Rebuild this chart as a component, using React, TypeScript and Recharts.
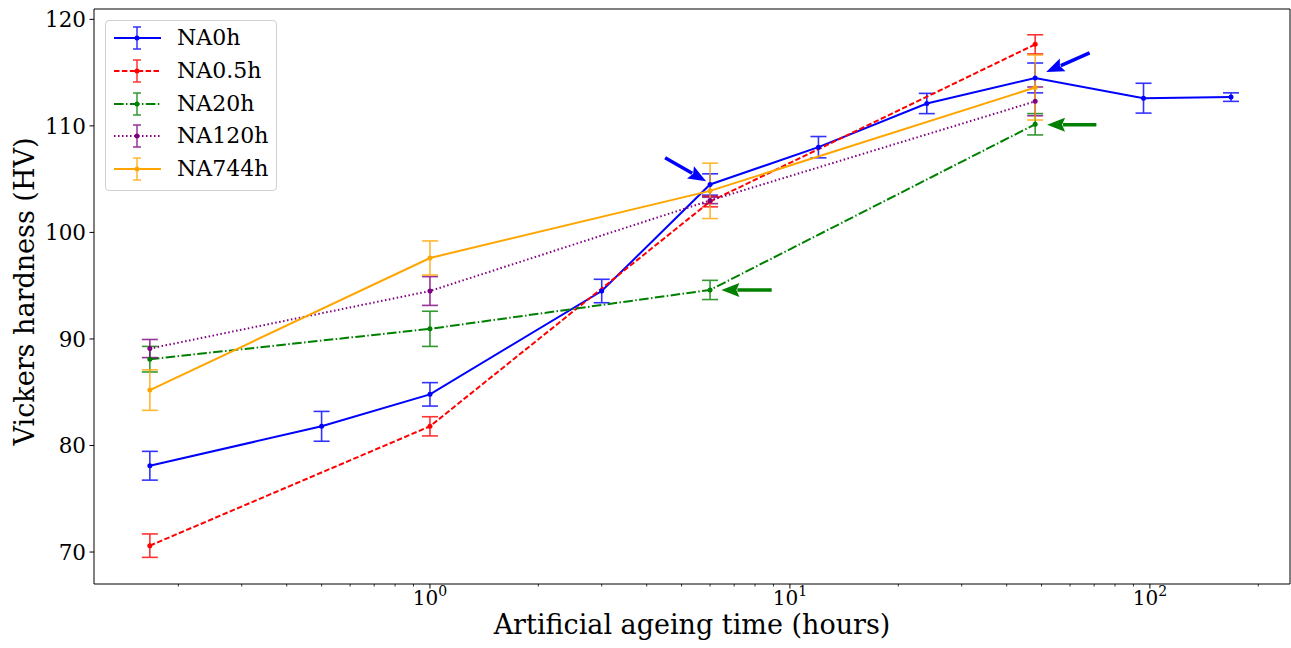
import React from 'react';
import { LineChart, Line, XAxis, YAxis, ErrorBar, Legend, ReferenceLine, Label } from 'recharts';

const SERIF = '"DejaVu Serif", "Liberation Serif", serif';

// ageing times (hours)
const hoursLong = [1 / 6, 0.5, 1, 3, 6, 12, 24, 48, 96, 168];
const hoursShort = [1 / 6, 1, 6, 48];

// Vickers hardness (HV) and error
const na0h = [78.1, 81.8, 84.8, 94.5, 104.5, 108.0, 112.1, 114.5, 112.6, 112.7];
const na0hErr = [1.35, 1.4, 1.1, 1.1, 1.0, 1.0, 0.95, 1.4, 1.4, 0.4];
const na05h = [70.6, 81.8, 102.9, 117.65];
const na05hErr = [1.1, 0.9, 0.5, 0.9];
const na20h = [88.1, 90.95, 94.6, 110.15];
const na20hErr = [1.2, 1.65, 0.9, 1.0];
const na120h = [89.1, 94.5, 103.0, 112.3];
const na120hErr = [0.85, 1.35, 0.3, 1.35];
const na744h = [85.2, 97.6, 103.9, 113.6];
const na744hErr = [1.9, 1.6, 2.6, 3.05];

// axes
const xDomain = [0.1166, 245];
const yDomain = [67, 120.97];
const majorX = [1, 10, 100];
const minorX = [0.2, 0.3, 0.4, 0.5, 0.6, 0.7, 0.8, 0.9, 2, 3, 4, 5, 6, 7, 8, 9, 20, 30, 40, 50, 60, 70, 80, 90, 200];
const yTicks = [70, 80, 90, 100, 110, 120];

// arrow annotations (data coords): tail -> tip
const arrowFrom = [[4.5, 107.0], [68, 116.85], [8.9, 94.6], [71, 110.1]];
const arrowTo = [[5.85, 104.8], [51.5, 115.05], [6.45, 94.6], [51.8, 110.1]];
const arrowColors = ['#0000ff', '#0000ff', '#008000', '#008000'];

const zip = (xs: number[], ys: number[], es: number[]) =>
  xs.map((x, i) => ({ x, y: ys[i], err: es[i] }));

const series = [
  { name: 'NA0h', color: '#0000ff', dash: undefined, data: zip(hoursLong, na0h, na0hErr) },
  { name: 'NA0.5h', color: '#ff0000', dash: '5.5 2.4', data: zip(hoursShort, na05h, na05hErr) },
  { name: 'NA20h', color: '#008000', dash: '9.6 2.4 1.5 2.4', data: zip(hoursShort, na20h, na20hErr) },
  { name: 'NA120h', color: '#800080', dash: '1.5 2.5', data: zip(hoursShort, na120h, na120hErr) },
  { name: 'NA744h', color: '#ffa500', dash: undefined, data: zip(hoursShort, na744h, na744hErr) },
];

const XTick = (props: any) => {
  const { x, y, payload } = props;
  const major = majorX.includes(payload.value);
  if (!major) {
    return <line x1={x} x2={x} y1={y} y2={y + 2.5} stroke="#000" strokeWidth={0.8} />;
  }
  const exp = Math.round(Math.log10(payload.value));
  return (
    <g>
      <line x1={x} x2={x} y1={y} y2={y + 4.5} stroke="#000" strokeWidth={1} />
      <text x={x} y={y + 21} textAnchor="middle" fontFamily={SERIF} fontSize={20} fill="#000">
        10
        <tspan dy={-9} fontSize={14}>{exp}</tspan>
      </text>
    </g>
  );
};

const YTick = (props: any) => {
  const { x, y, payload } = props;
  return (
    <g>
      <line x1={x - 4.5} x2={x} y1={y} y2={y} stroke="#000" strokeWidth={1} />
      <text x={x - 8} y={y} dy="0.36em" textAnchor="end" fontFamily={SERIF} fontSize={21.5} fill="#000">
        {payload.value}
      </text>
    </g>
  );
};

const ArrowShape = (props: any) => {
  const { x1, y1, x2, y2, stroke } = props;
  const dx = x2 - x1;
  const dy = y2 - y1;
  const len = Math.hypot(dx, dy) || 1;
  const ux = dx / len;
  const uy = dy / len;
  const hl = 18;
  const hw = 7;
  const bx = x2 - ux * hl;
  const by = y2 - uy * hl;
  const px = -uy;
  const py = ux;
  return (
    <g>
      <line x1={x1} y1={y1} x2={bx + ux * 2} y2={by + uy * 2} stroke={stroke} strokeWidth={3.5} />
      <polygon
        points={`${x2},${y2} ${bx + px * hw},${by + py * hw} ${bx + ux * 3},${by + uy * 3} ${bx - px * hw},${by - py * hw}`}
        fill={stroke}
      />
    </g>
  );
};

const YLabel = (props: any) => {
  const { viewBox } = props;
  const cy = viewBox.y + viewBox.height / 2 - 5;
  return (
    <text
      x={24}
      y={cy}
      dy="0.36em"
      transform={`rotate(-90, 24, ${cy})`}
      textAnchor="middle"
      fontFamily={SERIF}
      fontSize={27}
      fill="#000"
    >
      Vickers hardness (HV)
    </text>
  );
};

const XLabel = (props: any) => {
  const { viewBox } = props;
  const cx = viewBox.x + viewBox.width / 2;
  return (
    <text x={cx} y={634} textAnchor="middle" fontFamily={SERIF} fontSize={27} fill="#000">
      Artificial ageing time (hours)
    </text>
  );
};

const LegendBox = () => (
  <div
    style={{
      width: 172,
      height: 171,
      boxSizing: 'border-box',
      border: '1px solid #d0d0d0',
      borderRadius: 4,
      background: 'rgba(255,255,255,0.8)',
      paddingTop: 1,
    }}
  >
    {series.map((s) => (
      <div key={s.name} style={{ display: 'flex', alignItems: 'center', height: 32.7 }}>
        <svg width={62} height={32} style={{ flex: 'none' }}>
          <line x1={8} x2={55} y1={16} y2={16} stroke={s.color} strokeWidth={2} strokeDasharray={s.dash} />
          <g stroke={s.color} strokeWidth={1.5} opacity={0.8}>
            <line x1={31} x2={31} y1={5} y2={27} />
            <line x1={27} x2={35} y1={5} y2={5} />
            <line x1={27} x2={35} y1={27} y2={27} />
          </g>
          <circle cx={31} cy={16} r={2.5} fill={s.color} />
        </svg>
        <span style={{ fontFamily: SERIF, fontSize: 22, color: '#000', marginLeft: 9, lineHeight: 1 }}>{s.name}</span>
      </div>
    ))}
  </div>
);

export default function App() {
  return (
    <div style={{ position: 'absolute', left: 0, top: 0, width: 1291, height: 648, background: '#fff' }}>
      <LineChart width={1291} height={648} margin={{ top: 9, right: 1, bottom: 34, left: 34 }}>
        <XAxis
          xAxisId="main"
          dataKey="x"
          type="number"
          scale="log"
          domain={xDomain}
          allowDataOverflow
          ticks={[...majorX, ...minorX]}
          interval={0}
          tick={<XTick />}
          tickLine={false}
          tickSize={0}
          tickMargin={0}
          height={30}
          stroke="#000"
        >
          <Label content={<XLabel />} />
        </XAxis>
        <YAxis
          yAxisId="main"
          type="number"
          domain={yDomain}
          allowDataOverflow
          ticks={yTicks}
          interval={0}
          tick={<YTick />}
          tickLine={false}
          tickSize={0}
          tickMargin={0}
          width={60}
          stroke="#000"
        >
          <Label content={<YLabel />} />
        </YAxis>
        <Legend
          layout="vertical"
          align="center"
          verticalAlign="middle"
          content={<LegendBox />}
          wrapperStyle={{ left: 105, top: 20, width: 172, height: 171 }}
        />
        <ReferenceLine xAxisId="main" yAxisId="main" y={yDomain[1]} stroke="#000" strokeWidth={1} />
        <ReferenceLine xAxisId="main" yAxisId="main" x={xDomain[1]} stroke="#000" strokeWidth={1} />
        {series.map((s) => (
          <Line
            key={s.name}
            xAxisId="main"
            yAxisId="main"
            data={s.data}
            dataKey="y"
            name={s.name}
            stroke={s.color}
            strokeWidth={2}
            strokeDasharray={s.dash}
            dot={{ r: 2.5, fill: s.color, stroke: s.color, strokeWidth: 0 }}
            activeDot={false}
            isAnimationActive={false}
          >
            <ErrorBar dataKey="err" direction="y" width={8} stroke={s.color} strokeWidth={1.6} opacity={0.8} isAnimationActive={false} />
          </Line>
        ))}
        {arrowFrom.map((f, i) => (
          <ReferenceLine
            key={i}
            xAxisId="main"
            yAxisId="main"
            segment={[{ x: f[0], y: f[1] }, { x: arrowTo[i][0], y: arrowTo[i][1] }]}
            stroke={arrowColors[i]}
            ifOverflow="visible"
            shape={ArrowShape}
          />
        ))}
      </LineChart>
    </div>
  );
}
